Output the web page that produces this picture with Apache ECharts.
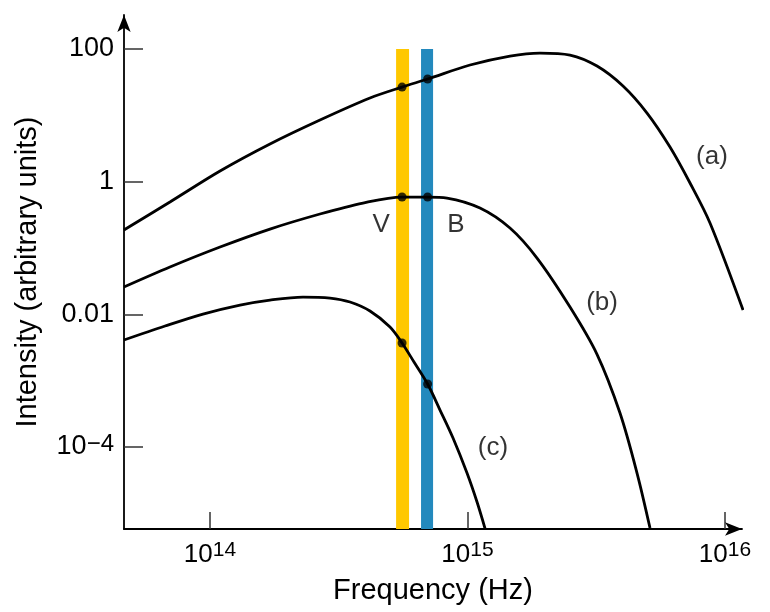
<!DOCTYPE html>
<html><head><meta charset="utf-8">
<script src="https://cdn.jsdelivr.net/npm/echarts@6/dist/echarts.min.js"></script>
<style>html,body{margin:0;padding:0;background:#fff}#c{width:770px;height:612px}</style>
</head><body><div id="c"></div>
<script>
// ---- data (frequency in Hz, intensity in arbitrary units) ----
const curveAFreq = [4.63e13, 6.99e13, 1.094e14, 1.71e14, 2.674e14, 4.181e14, 5.57e14, 7.0e14, 1.023e15, 1.462e15, 1.912e15, 2.501e15, 3.184e15, 4.017e15, 4.98e15, 6.115e15, 7.313e15, 8.744e15, 1.175e16];
const curveAInt  = [0.187, 0.494, 1.448, 3.70, 8.50, 18.25, 26.7, 35.3, 57.4, 78.4, 87.0, 81.2, 55.4, 27.7, 10.84, 3.33, 0.955, 0.238, 0.0116];

const curveBFreq = [4.63e13, 6.99e13, 1.094e14, 1.71e14, 2.674e14, 3.928e14, 5.57e14, 7.0e14, 8.325e14, 1.118e15, 1.462e15, 1.862e15, 2.501e15, 3.184e15, 3.91e15, 4.553e15, 5.114e15];
const curveBInt  = [0.0258, 0.0517, 0.1035, 0.193, 0.3255, 0.4769, 0.587, 0.587, 0.567, 0.4009, 0.2001, 0.07065, 0.0129, 0.00250, 3.253e-4, 4.052e-5, 6.0e-6];

const curveCFreq = [4.63e13, 6.69e13, 9.39e13, 1.308e14, 1.71e14, 2.297e14, 2.924e14, 3.498e14, 4.181e14, 5.0e14, 5.57e14, 6.198e14, 7.0e14, 7.821e14, 8.785e14, 9.956e14, 1.089e15, 1.17e15];
const curveCInt  = [0.0041, 0.00667, 0.01011, 0.01382, 0.01643, 0.01824, 0.01762, 0.01534, 0.01122, 0.00644, 0.0037, 0.00191, 8.9e-4, 3.61e-4, 1.366e-4, 4.05e-5, 1.481e-5, 5.9e-6];

const dotFreq = [5.57e14, 7.0e14];          // V, B filter centres
const dotAInt = [26.7, 35.3];
const dotBInt = [0.587, 0.587];
const dotCInt = [0.0037, 8.9e-4];

const bandNames = ['V', 'B'];
const bandLow   = [5.28e14, 6.60e14];
const bandHigh  = [5.93e14, 7.35e14];
const bandTop   = 100;

const labelText = ['(a)', '(b)', '(c)', 'V', 'B'];
const labelFreq = [8.9e15, 3.33e15, 1.256e15, 4.62e14, 9.02e14];
const labelInt  = [2.35, 0.0148, 9.65e-5, 0.222, 0.222];

const xTickExp = [14, 15, 16];
const yTickExp = [2, 0, -2, -4];
const yTickText = ['100', '1', '0.01', null]; // null -> power notation

const xMinExp = 13.666, xMaxExp = 16.066;
const yMinExp = -5.236, yMaxExp = 2.513;

// ---- build ----
const L = Math.log10;
const pairs = (fs, vs) => fs.map((f, i) => [L(f), L(vs[i])]);
const FONT = '"Liberation Sans", Arial, Helvetica, sans-serif';
const INK = '#000';

const lineStyle = { color: '#000', width: 2.8 };
function curve(name, fs, vs) {
  return { name, type: 'line', data: pairs(fs, vs), showSymbol: false, smooth: 0.32,
    lineStyle, z: 3, clip: true, silent: true };
}
const dots = [];
[dotAInt, dotBInt, dotCInt].forEach(arr => arr.forEach((v, i) => dots.push([L(dotFreq[i]), L(v)])));

const bandData = bandNames.map((n, i) => [L(bandLow[i]), L(bandHigh[i]), L(bandTop), n]);
const bandColors = { V: '#ffc800', B: '#2389bd' };

const chart = echarts.init(document.getElementById('c'), null, { renderer: 'canvas' });
chart.setOption({
  animation: false,
  backgroundColor: '#fff',
  textStyle: { fontFamily: FONT },
  grid: { left: 124, right: 28, top: 15, bottom: 83, containLabel: false },
  xAxis: {
    type: 'value', min: xMinExp, max: xMaxExp,
    name: 'Frequency (Hz)', nameLocation: 'middle', nameGap: 47,
    nameTextStyle: { fontSize: 29, color: INK, fontFamily: FONT },
    axisLine: { show: true, onZero: false, symbol: ['none', 'arrow'], symbolSize: [10, 17],
      lineStyle: { color: '#000', width: 1.8 } },
    axisTick: { show: true, inside: true, length: 17, customValues: xTickExp,
      lineStyle: { color: '#333', width: 1.5 } },
    axisLabel: { show: true, margin: 11, customValues: xTickExp, color: INK,
      formatter: v => '{b|10}{s|' + Math.round(v) + '}',
      rich: { b: { fontSize: 26, lineHeight: 30, fontFamily: FONT, color: INK },
              s: { fontSize: 21, lineHeight: 20, verticalAlign: 'top', fontFamily: FONT, color: INK } } },
    splitLine: { show: false }
  },
  yAxis: {
    type: 'value', min: yMinExp, max: yMaxExp,
    name: 'Intensity (arbitrary units)', nameLocation: 'middle', nameGap: 82, nameRotate: 90,
    nameTextStyle: { fontSize: 29, color: INK, fontFamily: FONT },
    axisLine: { show: true, onZero: false, symbol: ['none', 'arrow'], symbolSize: [10, 17],
      lineStyle: { color: '#000', width: 1.8 } },
    axisTick: { show: true, inside: true, length: 19, customValues: yTickExp,
      lineStyle: { color: '#333', width: 1.5 } },
    axisLabel: { show: true, margin: 10, customValues: yTickExp, color: INK,
      formatter: v => {
        const e = Math.round(v);
        const i = yTickExp.indexOf(e);
        const t = i >= 0 ? yTickText[i] : null;
        if (t) return '{b|' + t + '}';
        return '{b|10}{s|\u2212' + Math.abs(e) + '}';
      },
      rich: { b: { fontSize: 27, lineHeight: 30, fontFamily: FONT, color: INK },
              s: { fontSize: 24, lineHeight: 18, verticalAlign: 'top', fontFamily: FONT, color: INK } } },
    splitLine: { show: false }
  },
  series: [
    {
      name: 'bands', type: 'custom', z: 1, silent: true, clip: true,
      data: bandData,
      renderItem: (params, api) => {
        const p1 = api.coord([api.value(0), yMinExp]);
        const p2 = api.coord([api.value(1), api.value(2)]);
        const n = bandData[params.dataIndex][3];
        return { type: 'rect', shape: { x: p1[0], y: p2[1], width: p2[0] - p1[0], height: p1[1] - p2[1] },
          style: { fill: bandColors[n] } };
      }
    },
    curve('a', curveAFreq, curveAInt),
    curve('b', curveBFreq, curveBInt),
    curve('c', curveCFreq, curveCInt),
    { name: 'dots', type: 'scatter', data: dots, symbolSize: 9, z: 5, silent: true,
      itemStyle: { color: '#000' } },
    { name: 'labels', type: 'scatter', z: 6, silent: true, symbolSize: 0,
      data: labelText.map((t, i) => ({ name: t, value: [L(labelFreq[i]), L(labelInt[i])] })),
      label: { show: true, position: 'inside', formatter: '{b}', fontSize: 26, color: INK, fontFamily: FONT } }
  ]
});
</script>
</body></html>
